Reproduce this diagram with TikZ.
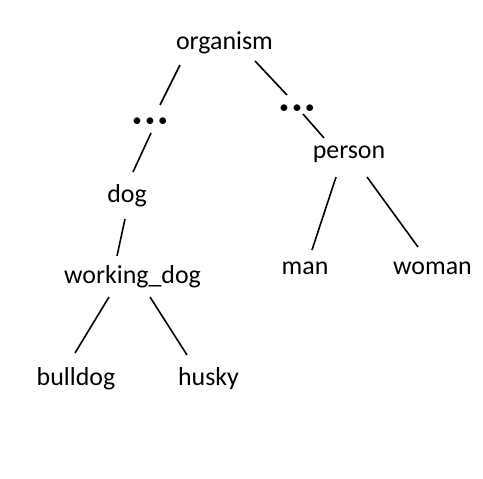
\documentclass[tikz,border=0pt]{standalone}
\usepackage{fontspec}
\setmainfont{Carlito}
\newcommand{\dotrow}{{\fontsize{19}{20}\selectfont •\kern3.5bp•\kern3.5bp•}}

\begin{document}
\begin{tikzpicture}[x=1bp,y=-1bp,
	every node/.style={font=\fontsize{26}{30}\selectfont,inner sep=0pt,anchor=base},
	dotsbox/.style={anchor=center},
	branch/.style={line width=1.6bp}]
	\useasboundingbox (0,0) rectangle (483,479);
	\node (organism) at (224.5,50) {organism};
	\node[dotsbox] (dots_1) at (150,122) {\dotrow};
	\node[dotsbox] (dots_2) at (297,109) {\dotrow};
	\node (person) at (349,159) {person};
	\node (dog) at (127,202) {dog};
	\node (working_dog) at (132.5,283) {working\_dog};
	\node (man) at (305,274) {man};
	\node (woman) at (432.5,274) {woman};
	\node (bulldog) at (76,385) {bulldog};
	\node (husky) at (208.5,385) {husky};
	\path[branch]
	([shift={(-44.5,15)}]organism.base) edge ([shift={(10,-17)}]dots_1.center)
	([shift={(30.5,11)}]organism.base) edge ([shift={(-10,-14)}]dots_2.center)
	([shift={(1,11)}]dots_1.center) edge ([shift={(6,-30)}]dog.base)
	([shift={(6,5)}]dots_2.center) edge ([shift={(-25,-21)}]person.base)
	([shift={(-2,17)}]dog.base) edge ([shift={(-15.5,-27)}]working_dog.base)
	([shift={(-13,18)}]person.base) edge ([shift={(7,-24)}]man.base)
	([shift={(18,18)}]person.base) edge ([shift={(-14.5,-27)}]woman.base)
	([shift={(-23.5,14)}]working_dog.base) edge ([shift={(-1,-32)}]bulldog.base)
	([shift={(17.5,14)}]working_dog.base) edge ([shift={(-21.5,-30)}]husky.base);
\end{tikzpicture}
\end{document}
